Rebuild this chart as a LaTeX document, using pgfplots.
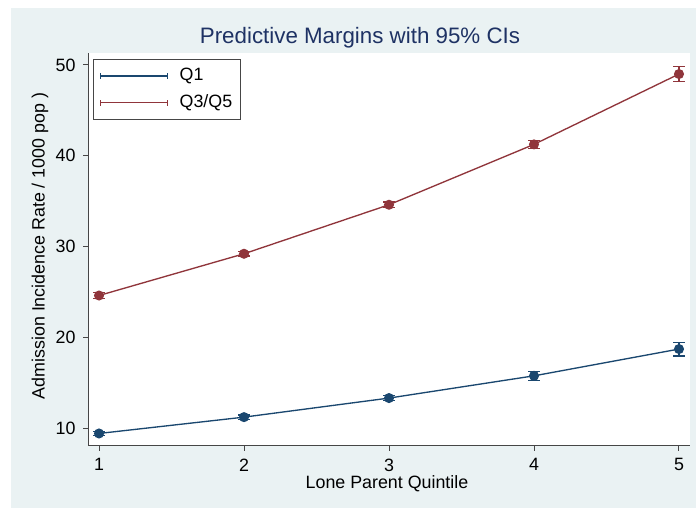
\documentclass[border=0pt]{standalone}
\usepackage{fontspec}
\setmainfont{Liberation Sans}
\usepackage{pgfplots}
\pgfplotsset{compat=1.18}
\definecolor{bg}{RGB}{234,242,243}
\definecolor{snavy}{RGB}{26,71,111}
\definecolor{smaroon}{RGB}{144,53,59}
\definecolor{ttl}{RGB}{30,50,100}
\definecolor{axc}{RGB}{70,70,70}
\begin{document}
\begin{tikzpicture}
\path (0pt,0pt) rectangle (417.6pt,304.8pt);
\fill[bg] (6.6pt,0pt) rectangle (417.6pt,300pt);
\begin{axis}[
  at={(52.8pt,37.2pt)}, anchor=south west,
  scale only axis, width=361.2pt, height=235.8pt,
  xmin=0.924, xmax=5.076, ymin=8.02, ymax=51.32,
  axis x line*=bottom, axis y line*=left,
  axis line style={draw=axc, line width=0.6pt, -},
  axis background/.style={fill=white},
  xtick={1,2,3,4,5}, ytick={10,20,30,40,50},
  tick align=outside, major tick length=3pt,
  tick style={draw=axc, line width=0.6pt},
  /pgf/number format/assume math mode=true,
  ticklabel style={font=\fontsize{10.7}{13}\selectfont, text=black},
  yticklabel style={xshift=-1pt},
  xticklabel style={yshift=-1pt},
  legend style={at={(0.0083,0.985)}, anchor=north west, draw=axc, fill=white,
    font=\fontsize{10.7}{13}\selectfont, inner xsep=3pt, inner ysep=3.5pt, row sep=3pt},
  legend cell align=left,
  legend image code/.code={
    \draw[#1] (0pt,0pt) -- (40pt,0pt);
    \draw[#1] (0pt,-1.8pt) -- (0pt,1.8pt);
    \draw[#1] (40pt,-1.8pt) -- (40pt,1.8pt);
    \path (-1pt,0pt) (45pt,0pt);
  },
]
\addplot[color=snavy, line width=0.8pt, mark=*, mark size=2.6pt,
  error bars/.cd, y dir=both, y explicit,
  error bar style={line width=0.8pt, color=snavy},
  error mark options={rotate=90, mark size=3.5pt, line width=0.8pt, color=snavy}]
  table[x=x, y=y, y error=e] {
x y e
1 9.4 0.2
2 11.2 0.25
3 13.3 0.3
4 15.75 0.5
5 18.7 0.75
};
\addlegendentry{Q1}
\addplot[color=smaroon, line width=0.8pt, mark=*, mark size=2.6pt,
  error bars/.cd, y dir=both, y explicit,
  error bar style={line width=0.8pt, color=smaroon},
  error mark options={rotate=90, mark size=3.5pt, line width=0.8pt, color=smaroon}]
  table[x=x, y=y, y error=e] {
x y e
1 24.6 0.3
2 29.2 0.25
3 34.6 0.3
4 41.25 0.45
5 49.0 0.85
};
\addlegendentry{Q3/Q5}
\end{axis}
\node[text=ttl, font=\fontsize{13.4}{16}\selectfont] at (216pt,282pt) {Predictive Margins with 95\% CIs};
\node[font=\fontsize{10.7}{13}\selectfont] at (232.2pt,14.4pt) {Lone Parent Quintile};
\node[font=\fontsize{10.7}{13}\selectfont, rotate=90] at (24pt,157.2pt) {Admission Incidence Rate / 1000 pop )};
\end{tikzpicture}
\end{document}
